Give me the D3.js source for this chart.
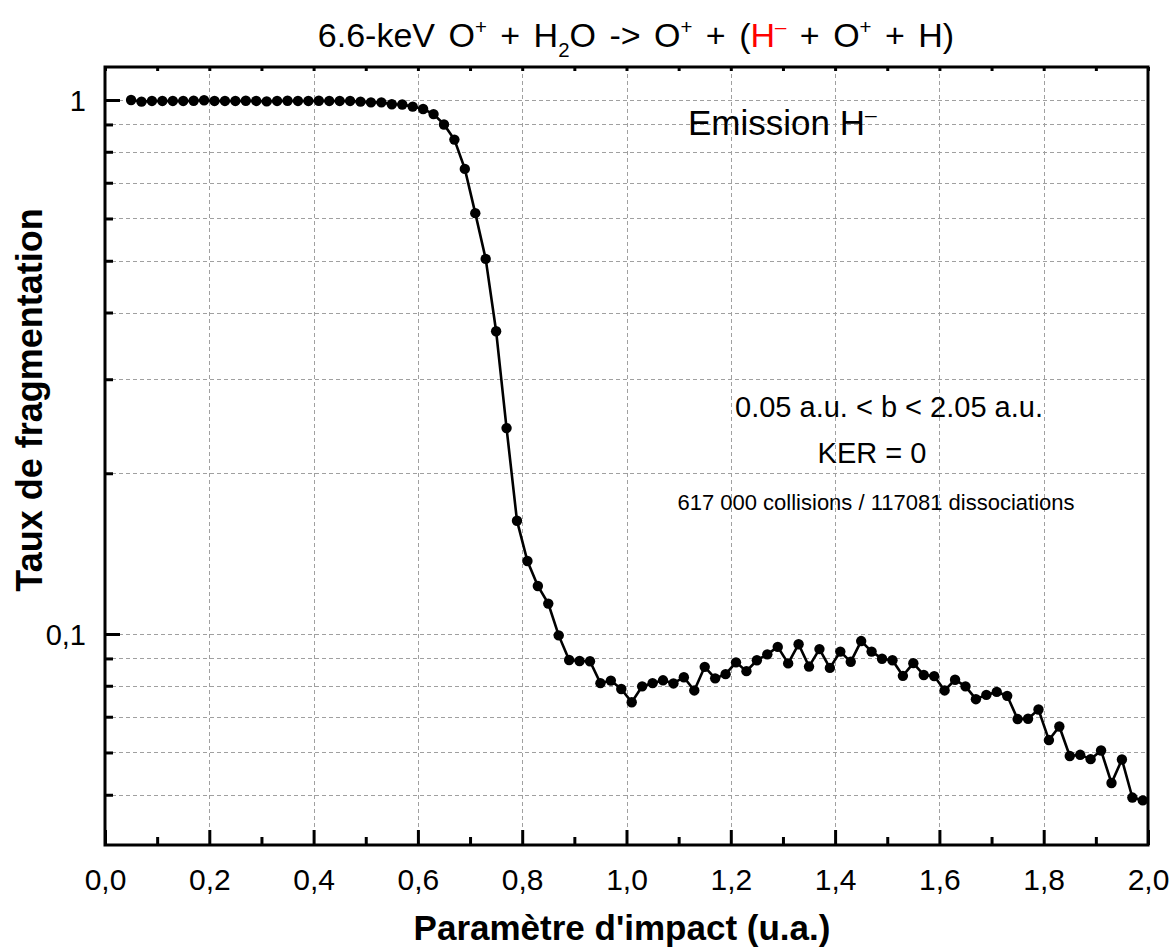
<!DOCTYPE html>
<html>
<head>
<meta charset="utf-8">
<script src="https://cdn.jsdelivr.net/npm/d3@7"></script>
<style>
  body { margin: 0; background: #fff; }
  svg text { font-family: "Liberation Sans", Arial, sans-serif; fill: #000; }
</style>
</head>
<body>
<svg id="chart" width="1171" height="951"></svg>
<script>
// impact parameter b (u.a.)
var impact = [0.05,0.07,0.09,0.11,0.13,0.15,0.17,0.19,0.21,0.23,
  0.25,0.27,0.29,0.31,0.33,0.35,0.37,0.39,0.41,0.43,
  0.45,0.47,0.49,0.51,0.53,0.55,0.57,0.59,0.61,0.63,
  0.65,0.67,0.69,0.71,0.73,0.75,0.77,0.79,0.81,0.83,
  0.85,0.87,0.89,0.91,0.93,0.95,0.97,0.99,1.01,1.03,
  1.05,1.07,1.09,1.11,1.13,1.15,1.17,1.19,1.21,1.23,
  1.25,1.27,1.29,1.31,1.33,1.35,1.37,1.39,1.41,1.43,
  1.45,1.47,1.49,1.51,1.53,1.55,1.57,1.59,1.61,1.63,
  1.65,1.67,1.69,1.71,1.73,1.75,1.77,1.79,1.81,1.83,
  1.85,1.87,1.89,1.91,1.93,1.95,1.97,1.99];
// taux de fragmentation (emission H-)
var taux = [1.0,0.993,0.996,0.996,0.996,0.996,0.997,0.999,0.996,0.996,
  0.996,0.997,0.996,0.994,0.996,0.997,0.996,0.996,0.997,0.996,
  0.996,0.996,0.993,0.990,0.990,0.982,0.981,0.972,0.962,0.941,
  0.900,0.843,0.743,0.614,0.504,0.369,0.243,0.163,0.137,0.123,
  0.114,0.0994,0.0894,0.0890,0.0889,0.0809,0.0818,0.0789,0.0745,0.0798,
  0.0809,0.0819,0.0808,0.0830,0.0784,0.0868,0.0826,0.0841,0.0885,0.0852,
  0.0893,0.0916,0.0946,0.0881,0.0957,0.0869,0.0937,0.0864,0.0927,0.0887,
  0.0970,0.0927,0.0899,0.0893,0.0835,0.0882,0.0838,0.0834,0.0784,0.0821,
  0.0798,0.0755,0.0769,0.0779,0.0766,0.0693,0.0694,0.0722,0.0633,0.0671,
  0.0591,0.0594,0.0583,0.0605,0.0526,0.0582,0.0494,0.0488];

var xMajor = [0,0.2,0.4,0.6,0.8,1.0,1.2,1.4,1.6,1.8,2.0];
var xMinor = [0.1,0.3,0.5,0.7,0.9,1.1,1.3,1.5,1.7,1.9];
var yMajor = [1, 0.1];
var yMajorLabels = ["1", "0,1"];
var yMinor = [0.9,0.8,0.7,0.6,0.5,0.4,0.3,0.2,0.09,0.08,0.07,0.06,0.05];

var svg = d3.select("#chart");
var pLeft = 105, pRight = 1148, pTop = 67, pBottom = 845;

var x = d3.scaleLinear().domain([0, 2]).range([pLeft, pRight]);
var y = d3.scaleLog().domain([0.04026, 1.153]).range([pBottom, pTop]);

var fmt = function (d) { return d3.format(".1f")(d).replace(".", ","); };

// grid
var grid = svg.append("g").attr("class", "grid")
  .attr("stroke", "#a0a0a0").attr("stroke-width", 1).attr("stroke-dasharray", "4,3");
grid.selectAll(".gx")
  .data(xMajor.filter(d => d > 0 && d < 2))
  .enter().append("line")
  .attr("x1", d => Math.round(x(d)) + 0.5).attr("x2", d => Math.round(x(d)) + 0.5)
  .attr("y1", pTop).attr("y2", pBottom);
grid.selectAll(".gy")
  .data(yMajor.concat(yMinor))
  .enter().append("line")
  .attr("x1", pLeft).attr("x2", pRight)
  .attr("y1", d => Math.round(y(d)) + 0.5).attr("y2", d => Math.round(y(d)) + 0.5);

// axes (inward ticks)
var xAxis = svg.append("g")
  .attr("transform", `translate(0,${pBottom})`)
  .call(d3.axisBottom(x).tickValues(xMajor).tickSize(-15).tickPadding(24).tickFormat(fmt));
svg.append("g")
  .attr("transform", `translate(0,${pBottom})`)
  .call(d3.axisBottom(x).tickValues(xMinor).tickSize(-8).tickFormat(""));
svg.append("g")
  .attr("transform", `translate(0,${pTop})`)
  .call(d3.axisTop(x).tickValues(xMajor.concat(xMinor)).tickSize(-4).tickFormat(""));

var yAxis = svg.append("g")
  .attr("transform", `translate(${pLeft},0)`)
  .call(d3.axisLeft(y).tickValues(yMajor).tickSize(-15)
    .tickFormat((d, i) => yMajorLabels[i]));
svg.append("g")
  .attr("transform", `translate(${pLeft},0)`)
  .call(d3.axisLeft(y).tickValues(yMinor).tickSize(-8).tickFormat(""));

svg.selectAll(".domain").remove();
svg.selectAll(".tick line").attr("stroke", "#000").attr("stroke-width", 3);
xAxis.selectAll("text").attr("font-size", 30).attr("dy", "0.71em");
yAxis.selectAll("text").attr("font-size", 29).attr("x", -19).attr("dy", "0.36em");
svg.selectAll(".tick text").style("font-family", "'Liberation Sans', Arial, sans-serif").attr("fill", "#000");

// frame
svg.append("rect")
  .attr("x", pLeft).attr("y", pTop)
  .attr("width", pRight - pLeft).attr("height", pBottom - pTop)
  .attr("fill", "none").attr("stroke", "#000").attr("stroke-width", 3);

// data
svg.append("clipPath").attr("id", "plot-clip")
  .append("rect").attr("x", pLeft).attr("y", pTop)
  .attr("width", pRight - pLeft).attr("height", pBottom - pTop);

var pts = impact.map((b, i) => ({ b: b, v: taux[i] }));
var plot = svg.append("g").attr("clip-path", "url(#plot-clip)");
plot.append("path")
  .datum(pts)
  .attr("fill", "none").attr("stroke", "#000").attr("stroke-width", 2.6)
  .attr("d", d3.line().x(d => x(d.b)).y(d => y(d.v)));
plot.selectAll(".dot")
  .data(pts)
  .enter().append("circle")
  .attr("class", "dot")
  .attr("cx", d => x(d.b)).attr("cy", d => y(d.v))
  .attr("r", 5.2).attr("fill", "#000");

// rich text helper: segments with optional sup/sub and colour
function rich(parent, px, py, size, segs, anchor) {
  var t = parent.append("text").attr("x", px).attr("y", py)
    .attr("font-size", size).attr("text-anchor", anchor || "start");
  var shift = 0;
  segs.forEach(function (s) {
    var target = s.sup ? -size * 0.38 : s.sub ? size * 0.3 : 0;
    t.append("tspan")
      .attr("dy", target - shift)
      .attr("font-size", (s.sup || s.sub) ? size * 0.6 : size)
      .attr("fill", s.fill || "#000")
      .text(s.t);
    shift = target;
  });
  return t;
}

rich(svg, 636, 47, 34, [
  { t: "6.6-keV O" }, { t: "+", sup: 1 }, { t: " + H" }, { t: "2", sub: 1 },
  { t: "O -> O" }, { t: "+", sup: 1 }, { t: " + (" },
  { t: "H", fill: "#ff0000" }, { t: "\u2013", sup: 1, fill: "#ff0000" },
  { t: " + O" }, { t: "+", sup: 1 }, { t: " + H)" }
], "middle").attr("word-spacing", 4);

rich(svg, 688, 135, 35, [{ t: "Emission H" }, { t: "\u2013", sup: 1 }]);

svg.append("text").attr("x", 889).attr("y", 417).attr("text-anchor", "middle")
  .attr("font-size", 29).text("0.05 a.u. < b < 2.05 a.u.");
svg.append("text").attr("x", 872).attr("y", 463).attr("text-anchor", "middle")
  .attr("font-size", 29).text("KER = 0");
svg.append("text").attr("x", 876).attr("y", 510).attr("text-anchor", "middle")
  .attr("font-size", 22).text("617 000 collisions / 117081 dissociations");

// axis titles
svg.append("text").attr("x", 622).attr("y", 940).attr("text-anchor", "middle")
  .attr("font-size", 35).attr("font-weight", "bold").text("Paramètre d'impact (u.a.)");
svg.append("text")
  .attr("transform", "translate(42,400) rotate(-90)")
  .attr("text-anchor", "middle")
  .attr("font-size", 36).attr("font-weight", "bold").text("Taux de fragmentation");
</script>
</body>
</html>
